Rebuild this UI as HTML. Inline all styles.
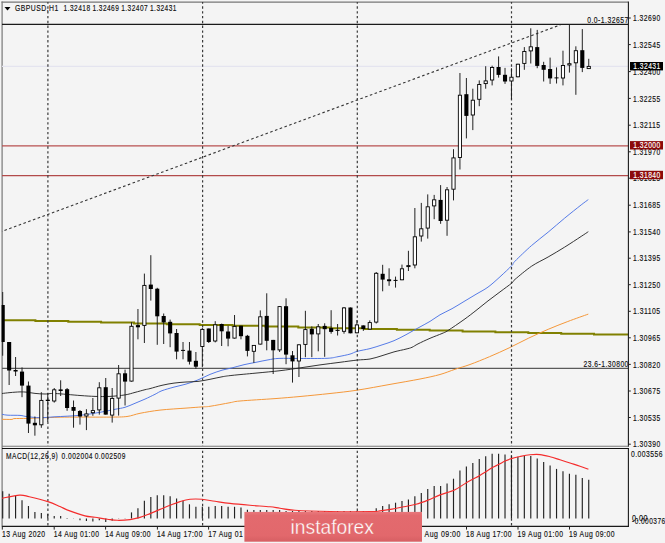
<!DOCTYPE html><html><head><meta charset="utf-8"><style>html,body{margin:0;padding:0;background:#f4f4f4;width:665px;height:543px;overflow:hidden}svg{display:block}text{font-family:"Liberation Sans",sans-serif;}</style></head><body>
<svg width="665" height="543" viewBox="0 0 665 543">
<rect width="665" height="543" fill="#f4f4f4"/>
<line x1="1.5" y1="2.2" x2="628" y2="2.2" stroke="#777" stroke-width="1.2"/>
<line x1="2.1" y1="1.5" x2="2.1" y2="526.5" stroke="#777" stroke-width="1.2"/>
<defs><clipPath id="cm"><rect x="1.6" y="2" width="627" height="444"/></clipPath></defs>
<line x1="2" y1="66.4" x2="628" y2="66.4" stroke="#e4e4ef" stroke-width="1.1"/>
<line x1="2" y1="145.9" x2="628" y2="145.9" stroke="#b85050" stroke-width="1.25"/>
<line x1="2" y1="175.5" x2="628" y2="175.5" stroke="#b24a4a" stroke-width="1.25"/>
<line x1="2" y1="24.3" x2="628" y2="24.3" stroke="#1a1a1a" stroke-width="1.3"/>
<line x1="2" y1="368.3" x2="628" y2="368.3" stroke="#5a5a5a" stroke-width="1.25"/>
<line x1="2" y1="231.4" x2="560.3" y2="24.9" stroke="#333" stroke-width="1.1" stroke-dasharray="2.6,2.46" stroke-dashoffset="2.46"/>
<polyline points="2.0,320.2 35.4,320.2 35.4,321.0 68.3,321.0 68.3,321.8 101.1,321.8 101.1,322.6 134.0,322.6 134.0,323.4 166.8,323.4 166.8,324.2 199.7,324.2 199.7,325.0 232.6,325.0 232.6,325.8 265.4,325.8 265.4,326.6 298.3,326.6 298.3,327.4 331.1,327.4 331.1,328.2 364.0,328.2 364.0,329.0 396.9,329.0 396.9,329.8 429.7,329.8 429.7,330.6 462.6,330.6 462.6,331.4 495.4,331.4 495.4,332.2 528.3,332.2 528.3,333.0 561.2,333.0 561.2,333.8 594.0,333.8 594.0,334.6 628.0,334.6" fill="none" stroke="#808000" stroke-width="2"/>
<path d="M2.00,419.30 C3.67,419.32 10.00,419.52 12.00,419.40 C14.00,419.28 11.50,418.77 14.00,418.60 C16.50,418.43 22.67,418.52 27.00,418.40 C31.33,418.28 34.50,418.10 40.00,417.90 C45.50,417.70 53.33,417.33 60.00,417.20 C66.67,417.07 71.67,417.12 80.00,417.10 C88.33,417.08 102.17,417.20 110.00,417.10 C117.83,417.00 122.00,417.13 127.00,416.50 C132.00,415.87 134.50,414.37 140.00,413.30 C145.50,412.23 152.33,410.97 160.00,410.10 C167.67,409.23 179.00,408.63 186.00,408.10 C193.00,407.57 198.00,407.20 202.00,406.90 C206.00,406.60 205.33,407.00 210.00,406.30 C214.67,405.60 225.00,403.58 230.00,402.70 C235.00,401.82 232.50,401.68 240.00,401.00 C247.50,400.32 265.00,399.35 275.00,398.60 C285.00,397.85 290.83,397.35 300.00,396.50 C309.17,395.65 320.50,394.55 330.00,393.50 C339.50,392.45 347.00,391.72 357.00,390.20 C367.00,388.68 379.50,386.27 390.00,384.40 C400.50,382.53 411.67,380.65 420.00,379.00 C428.33,377.35 434.17,376.12 440.00,374.50 C445.83,372.88 450.00,370.97 455.00,369.30 C460.00,367.63 464.25,366.60 470.00,364.50 C475.75,362.40 482.98,359.47 489.50,356.70 C496.02,353.93 502.57,351.00 509.10,347.90 C515.63,344.80 522.18,341.20 528.70,338.10 C535.22,335.00 541.68,332.07 548.20,329.30 C554.72,326.53 561.12,324.03 567.80,321.50 C574.48,318.97 584.88,315.33 588.30,314.10" fill="none" stroke="#f5983a" stroke-width="1"/>
<path d="M2.00,414.30 C3.00,414.45 5.00,415.02 8.00,415.20 C11.00,415.38 16.83,415.17 20.00,415.40 C23.17,415.63 23.67,416.22 27.00,416.60 C30.33,416.98 35.33,417.67 40.00,417.70 C44.67,417.73 48.33,417.20 55.00,416.80 C61.67,416.40 72.50,416.05 80.00,415.30 C87.50,414.55 94.17,413.30 100.00,412.30 C105.83,411.30 110.83,410.13 115.00,409.30 C119.17,408.47 121.67,408.30 125.00,407.30 C128.33,406.30 131.67,404.67 135.00,403.30 C138.33,401.93 141.67,400.60 145.00,399.10 C148.33,397.60 152.17,395.70 155.00,394.30 C157.83,392.90 158.83,391.90 162.00,390.70 C165.17,389.50 170.00,388.20 174.00,387.10 C178.00,386.00 182.00,385.30 186.00,384.10 C190.00,382.90 194.00,381.52 198.00,379.90 C202.00,378.28 206.00,376.02 210.00,374.40 C214.00,372.78 218.33,371.28 222.00,370.20 C225.67,369.12 228.33,368.82 232.00,367.90 C235.67,366.98 240.00,365.63 244.00,364.70 C248.00,363.77 252.00,363.10 256.00,362.30 C260.00,361.50 264.17,360.55 268.00,359.90 C271.83,359.25 273.67,358.63 279.00,358.40 C284.33,358.17 292.00,358.52 300.00,358.50 C308.00,358.48 320.67,358.60 327.00,358.30 C333.33,358.00 334.17,357.40 338.00,356.70 C341.83,356.00 346.83,354.98 350.00,354.10 C353.17,353.22 353.67,352.32 357.00,351.40 C360.33,350.48 365.83,349.68 370.00,348.60 C374.17,347.52 378.00,346.22 382.00,344.90 C386.00,343.58 390.00,342.40 394.00,340.70 C398.00,339.00 402.00,336.82 406.00,334.70 C410.00,332.58 414.00,330.22 418.00,328.00 C422.00,325.78 426.33,323.60 430.00,321.40 C433.67,319.20 436.33,316.92 440.00,314.80 C443.67,312.68 448.00,310.92 452.00,308.70 C456.00,306.48 460.00,303.90 464.00,301.50 C468.00,299.10 472.00,296.70 476.00,294.30 C480.00,291.90 484.00,290.02 488.00,287.10 C492.00,284.18 496.00,280.42 500.00,276.80 C504.00,273.18 509.50,268.00 512.00,265.40 C514.50,262.80 511.73,264.52 515.00,261.20 C518.27,257.88 526.08,250.33 531.60,245.50 C537.12,240.67 542.58,236.77 548.10,232.20 C553.62,227.63 559.18,222.65 564.70,218.10 C570.22,213.55 577.27,207.98 581.20,204.90 C585.13,201.82 587.12,200.48 588.30,199.60" fill="none" stroke="#4d74e6" stroke-width="0.95"/>
<path d="M2.00,393.50 C3.33,393.35 7.00,392.87 10.00,392.60 C13.00,392.33 17.17,391.97 20.00,391.90 C22.83,391.83 24.50,391.95 27.00,392.20 C29.50,392.45 32.00,393.10 35.00,393.40 C38.00,393.70 41.67,393.98 45.00,394.00 C48.33,394.02 49.17,393.25 55.00,393.50 C60.83,393.75 73.33,395.02 80.00,395.50 C86.67,395.98 90.00,396.25 95.00,396.40 C100.00,396.55 105.00,396.65 110.00,396.40 C115.00,396.15 120.83,395.57 125.00,394.90 C129.17,394.23 131.67,393.27 135.00,392.40 C138.33,391.53 142.50,390.33 145.00,389.70 C147.50,389.07 147.17,389.33 150.00,388.60 C152.83,387.87 158.00,386.22 162.00,385.30 C166.00,384.38 170.00,383.65 174.00,383.10 C178.00,382.55 182.00,382.28 186.00,382.00 C190.00,381.72 194.00,381.85 198.00,381.40 C202.00,380.95 206.00,380.07 210.00,379.30 C214.00,378.53 218.33,377.45 222.00,376.80 C225.67,376.15 226.33,376.02 232.00,375.40 C237.67,374.78 248.00,373.88 256.00,373.10 C264.00,372.32 272.67,371.57 280.00,370.70 C287.33,369.83 293.33,368.87 300.00,367.90 C306.67,366.93 313.33,365.83 320.00,364.90 C326.67,363.97 333.83,363.10 340.00,362.30 C346.17,361.50 352.00,360.65 357.00,360.10 C362.00,359.55 365.83,359.73 370.00,359.00 C374.17,358.27 378.00,356.88 382.00,355.70 C386.00,354.52 390.00,353.00 394.00,351.90 C398.00,350.80 403.00,349.87 406.00,349.10 C409.00,348.33 410.00,348.17 412.00,347.30 C414.00,346.43 415.00,345.40 418.00,343.90 C421.00,342.40 426.00,340.03 430.00,338.30 C434.00,336.57 439.00,334.80 442.00,333.50 C445.00,332.20 444.33,332.82 448.00,330.50 C451.67,328.18 459.33,322.93 464.00,319.60 C468.67,316.27 472.00,313.62 476.00,310.50 C480.00,307.38 484.00,304.00 488.00,300.90 C492.00,297.80 496.00,294.90 500.00,291.90 C504.00,288.90 509.50,284.98 512.00,282.90 C514.50,280.82 511.73,282.18 515.00,279.40 C518.27,276.62 526.08,269.93 531.60,266.20 C537.12,262.47 542.58,260.18 548.10,257.00 C553.62,253.82 559.18,250.53 564.70,247.10 C570.22,243.67 577.27,238.97 581.20,236.40 C585.13,233.83 587.12,232.48 588.30,231.70" fill="none" stroke="#2a2a2a" stroke-width="0.95"/>
<line x1="47.9" y1="2" x2="47.9" y2="446" stroke="#3a3a3a" stroke-width="1.2" stroke-dasharray="2.4,2.43" stroke-dashoffset="0.53"/>
<line x1="47.9" y1="449" x2="47.9" y2="526" stroke="#3a3a3a" stroke-width="1.2" stroke-dasharray="2.4,2.43" stroke-dashoffset="3.17"/>
<line x1="202.6" y1="2" x2="202.6" y2="446" stroke="#3a3a3a" stroke-width="1.2" stroke-dasharray="2.4,2.43" stroke-dashoffset="0.53"/>
<line x1="202.6" y1="449" x2="202.6" y2="526" stroke="#3a3a3a" stroke-width="1.2" stroke-dasharray="2.4,2.43" stroke-dashoffset="3.17"/>
<line x1="357.3" y1="2" x2="357.3" y2="446" stroke="#3a3a3a" stroke-width="1.2" stroke-dasharray="2.4,2.43" stroke-dashoffset="0.53"/>
<line x1="357.3" y1="449" x2="357.3" y2="526" stroke="#3a3a3a" stroke-width="1.2" stroke-dasharray="2.4,2.43" stroke-dashoffset="3.17"/>
<line x1="511.5" y1="2" x2="511.5" y2="446" stroke="#3a3a3a" stroke-width="1.2" stroke-dasharray="2.4,2.43" stroke-dashoffset="0.53"/>
<line x1="511.5" y1="449" x2="511.5" y2="526" stroke="#3a3a3a" stroke-width="1.2" stroke-dasharray="2.4,2.43" stroke-dashoffset="3.17"/>
<g clip-path="url(#cm)">
<line x1="2.70" y1="292.0" x2="2.70" y2="355.7" stroke="#222" stroke-width="1"/>
<rect x="0.65" y="305.0" width="4.1" height="37.0" fill="#000"/>
<line x1="9.14" y1="342.0" x2="9.14" y2="385.0" stroke="#222" stroke-width="1"/>
<rect x="7.09" y="342.0" width="4.1" height="28.5" fill="#000"/>
<line x1="15.58" y1="357.0" x2="15.58" y2="376.0" stroke="#222" stroke-width="1"/>
<rect x="13.53" y="370.0" width="4.1" height="1.5" fill="#000"/>
<line x1="22.02" y1="367.4" x2="22.02" y2="397.2" stroke="#222" stroke-width="1"/>
<rect x="19.97" y="371.6" width="4.1" height="14.0" fill="#000"/>
<line x1="28.46" y1="381.5" x2="28.46" y2="433.0" stroke="#222" stroke-width="1"/>
<rect x="26.41" y="385.6" width="4.1" height="38.0" fill="#000"/>
<line x1="34.90" y1="416.5" x2="34.90" y2="435.7" stroke="#222" stroke-width="1"/>
<rect x="32.85" y="422.8" width="4.1" height="2.5" fill="#000"/>
<line x1="41.34" y1="392.2" x2="41.34" y2="427.8" stroke="#222" stroke-width="1"/>
<rect x="39.74" y="400.4" width="3.2" height="24.4" fill="#fff" stroke="#000" stroke-width="0.9"/>
<line x1="47.78" y1="393.0" x2="47.78" y2="422.0" stroke="#222" stroke-width="1"/>
<rect x="45.73" y="399.7" width="4.1" height="1.3" fill="#000"/>
<line x1="54.22" y1="388.0" x2="54.22" y2="402.6" stroke="#222" stroke-width="1"/>
<rect x="52.62" y="389.8" width="3.2" height="11.2" fill="#fff" stroke="#000" stroke-width="0.9"/>
<line x1="60.66" y1="380.3" x2="60.66" y2="396.0" stroke="#222" stroke-width="1"/>
<rect x="58.61" y="389.4" width="4.1" height="1.6" fill="#000"/>
<line x1="67.10" y1="388.0" x2="67.10" y2="410.8" stroke="#222" stroke-width="1"/>
<rect x="65.05" y="389.2" width="4.1" height="18.8" fill="#000"/>
<line x1="73.54" y1="400.5" x2="73.54" y2="427.7" stroke="#222" stroke-width="1"/>
<rect x="71.49" y="407.0" width="4.1" height="3.8" fill="#000"/>
<line x1="79.98" y1="410.0" x2="79.98" y2="424.6" stroke="#222" stroke-width="1"/>
<rect x="77.93" y="411.0" width="4.1" height="5.5" fill="#000"/>
<line x1="86.42" y1="409.2" x2="86.42" y2="430.1" stroke="#222" stroke-width="1"/>
<rect x="84.82" y="413.9" width="3.2" height="2.1" fill="#fff" stroke="#000" stroke-width="0.9"/>
<line x1="92.86" y1="398.0" x2="92.86" y2="415.8" stroke="#222" stroke-width="1"/>
<rect x="91.26" y="410.6" width="3.2" height="2.1" fill="#fff" stroke="#000" stroke-width="0.9"/>
<line x1="99.30" y1="382.2" x2="99.30" y2="414.6" stroke="#222" stroke-width="1"/>
<rect x="97.70" y="387.8" width="3.2" height="22.1" fill="#fff" stroke="#000" stroke-width="0.9"/>
<line x1="105.74" y1="378.0" x2="105.74" y2="414.6" stroke="#222" stroke-width="1"/>
<rect x="103.69" y="387.2" width="4.1" height="27.4" fill="#000"/>
<line x1="112.18" y1="388.0" x2="112.18" y2="422.6" stroke="#222" stroke-width="1"/>
<rect x="110.58" y="398.4" width="3.2" height="16.7" fill="#fff" stroke="#000" stroke-width="0.9"/>
<line x1="118.62" y1="365.0" x2="118.62" y2="415.6" stroke="#222" stroke-width="1"/>
<rect x="117.02" y="373.8" width="3.2" height="24.3" fill="#fff" stroke="#000" stroke-width="0.9"/>
<line x1="125.06" y1="369.6" x2="125.06" y2="405.5" stroke="#222" stroke-width="1"/>
<rect x="123.01" y="373.3" width="4.1" height="8.3" fill="#000"/>
<line x1="131.50" y1="322.2" x2="131.50" y2="381.6" stroke="#222" stroke-width="1"/>
<rect x="129.90" y="326.3" width="3.2" height="54.8" fill="#fff" stroke="#000" stroke-width="0.9"/>
<line x1="137.94" y1="309.0" x2="137.94" y2="339.3" stroke="#222" stroke-width="1"/>
<rect x="135.89" y="325.1" width="4.1" height="2.2" fill="#000"/>
<line x1="144.38" y1="273.6" x2="144.38" y2="343.0" stroke="#222" stroke-width="1"/>
<rect x="142.78" y="285.4" width="3.2" height="40.0" fill="#fff" stroke="#000" stroke-width="0.9"/>
<line x1="150.82" y1="255.2" x2="150.82" y2="300.6" stroke="#222" stroke-width="1"/>
<rect x="148.77" y="284.6" width="4.1" height="4.4" fill="#000"/>
<line x1="157.26" y1="287.8" x2="157.26" y2="344.8" stroke="#222" stroke-width="1"/>
<rect x="155.21" y="288.7" width="4.1" height="27.6" fill="#000"/>
<line x1="163.70" y1="313.5" x2="163.70" y2="344.0" stroke="#222" stroke-width="1"/>
<rect x="161.65" y="316.0" width="4.1" height="6.4" fill="#000"/>
<line x1="170.14" y1="319.6" x2="170.14" y2="347.2" stroke="#222" stroke-width="1"/>
<rect x="168.09" y="321.8" width="4.1" height="11.6" fill="#000"/>
<line x1="176.58" y1="329.0" x2="176.58" y2="359.3" stroke="#222" stroke-width="1"/>
<rect x="174.53" y="333.0" width="4.1" height="18.6" fill="#000"/>
<line x1="183.02" y1="342.0" x2="183.02" y2="359.3" stroke="#222" stroke-width="1"/>
<line x1="180.97" y1="350.4" x2="185.07" y2="350.4" stroke="#000" stroke-width="1"/>
<line x1="189.46" y1="342.0" x2="189.46" y2="364.5" stroke="#222" stroke-width="1"/>
<rect x="187.41" y="350.6" width="4.1" height="11.1" fill="#000"/>
<line x1="195.90" y1="352.0" x2="195.90" y2="369.0" stroke="#222" stroke-width="1"/>
<rect x="193.85" y="360.8" width="4.1" height="5.9" fill="#000"/>
<line x1="202.34" y1="328.0" x2="202.34" y2="367.2" stroke="#222" stroke-width="1"/>
<rect x="200.74" y="329.4" width="3.2" height="17.1" fill="#fff" stroke="#000" stroke-width="0.9"/>
<line x1="208.78" y1="328.5" x2="208.78" y2="343.0" stroke="#222" stroke-width="1"/>
<rect x="206.73" y="328.5" width="4.1" height="13.5" fill="#000"/>
<line x1="215.22" y1="321.2" x2="215.22" y2="342.4" stroke="#222" stroke-width="1"/>
<rect x="213.62" y="324.8" width="3.2" height="16.2" fill="#fff" stroke="#000" stroke-width="0.9"/>
<line x1="221.66" y1="323.6" x2="221.66" y2="346.0" stroke="#222" stroke-width="1"/>
<rect x="219.61" y="324.0" width="4.1" height="7.3" fill="#000"/>
<line x1="228.10" y1="325.7" x2="228.10" y2="346.3" stroke="#222" stroke-width="1"/>
<rect x="226.05" y="331.5" width="4.1" height="7.1" fill="#000"/>
<line x1="234.54" y1="315.0" x2="234.54" y2="338.6" stroke="#222" stroke-width="1"/>
<rect x="232.94" y="326.4" width="3.2" height="11.7" fill="#fff" stroke="#000" stroke-width="0.9"/>
<line x1="240.98" y1="325.7" x2="240.98" y2="339.3" stroke="#222" stroke-width="1"/>
<rect x="238.93" y="325.7" width="4.1" height="10.5" fill="#000"/>
<line x1="247.42" y1="334.9" x2="247.42" y2="356.4" stroke="#222" stroke-width="1"/>
<rect x="245.37" y="335.8" width="4.1" height="15.1" fill="#000"/>
<line x1="253.86" y1="345.0" x2="253.86" y2="362.9" stroke="#222" stroke-width="1"/>
<rect x="252.26" y="345.4" width="3.2" height="5.9" fill="#fff" stroke="#000" stroke-width="0.9"/>
<line x1="260.30" y1="310.4" x2="260.30" y2="344.5" stroke="#222" stroke-width="1"/>
<rect x="258.70" y="316.8" width="3.2" height="27.3" fill="#fff" stroke="#000" stroke-width="0.9"/>
<line x1="266.74" y1="293.3" x2="266.74" y2="350.3" stroke="#222" stroke-width="1"/>
<rect x="264.69" y="315.9" width="4.1" height="24.9" fill="#000"/>
<line x1="273.18" y1="339.9" x2="273.18" y2="374.0" stroke="#222" stroke-width="1"/>
<rect x="271.13" y="339.9" width="4.1" height="10.4" fill="#000"/>
<line x1="279.62" y1="306.0" x2="279.62" y2="352.0" stroke="#222" stroke-width="1"/>
<rect x="278.02" y="306.6" width="3.2" height="43.3" fill="#fff" stroke="#000" stroke-width="0.9"/>
<line x1="286.06" y1="298.3" x2="286.06" y2="364.2" stroke="#222" stroke-width="1"/>
<rect x="284.01" y="306.2" width="4.1" height="48.4" fill="#000"/>
<line x1="292.50" y1="351.0" x2="292.50" y2="382.6" stroke="#222" stroke-width="1"/>
<rect x="290.45" y="355.3" width="4.1" height="6.1" fill="#000"/>
<line x1="298.94" y1="344.3" x2="298.94" y2="377.0" stroke="#222" stroke-width="1"/>
<rect x="297.34" y="344.8" width="3.2" height="16.2" fill="#fff" stroke="#000" stroke-width="0.9"/>
<line x1="305.38" y1="310.8" x2="305.38" y2="357.2" stroke="#222" stroke-width="1"/>
<rect x="303.78" y="329.6" width="3.2" height="14.8" fill="#fff" stroke="#000" stroke-width="0.9"/>
<line x1="311.82" y1="326.4" x2="311.82" y2="357.2" stroke="#222" stroke-width="1"/>
<rect x="309.77" y="328.8" width="4.1" height="5.6" fill="#000"/>
<line x1="318.26" y1="324.0" x2="318.26" y2="351.3" stroke="#222" stroke-width="1"/>
<rect x="316.66" y="326.8" width="3.2" height="7.1" fill="#fff" stroke="#000" stroke-width="0.9"/>
<line x1="324.70" y1="323.3" x2="324.70" y2="356.8" stroke="#222" stroke-width="1"/>
<rect x="322.65" y="325.9" width="4.1" height="3.3" fill="#000"/>
<line x1="331.14" y1="310.2" x2="331.14" y2="333.7" stroke="#222" stroke-width="1"/>
<rect x="329.09" y="328.0" width="4.1" height="3.9" fill="#000"/>
<line x1="337.58" y1="324.0" x2="337.58" y2="335.5" stroke="#222" stroke-width="1"/>
<line x1="335.53" y1="330.4" x2="339.63" y2="330.4" stroke="#000" stroke-width="1"/>
<line x1="344.02" y1="307.0" x2="344.02" y2="333.7" stroke="#222" stroke-width="1"/>
<rect x="342.42" y="307.9" width="3.2" height="23.4" fill="#fff" stroke="#000" stroke-width="0.9"/>
<line x1="350.46" y1="307.5" x2="350.46" y2="333.3" stroke="#222" stroke-width="1"/>
<rect x="348.41" y="307.5" width="4.1" height="25.8" fill="#000"/>
<line x1="356.90" y1="320.0" x2="356.90" y2="333.3" stroke="#222" stroke-width="1"/>
<rect x="355.30" y="324.9" width="3.2" height="7.9" fill="#fff" stroke="#000" stroke-width="0.9"/>
<line x1="363.34" y1="325.4" x2="363.34" y2="330.9" stroke="#222" stroke-width="1"/>
<rect x="361.29" y="325.4" width="4.1" height="3.6" fill="#000"/>
<line x1="369.78" y1="320.4" x2="369.78" y2="329.6" stroke="#222" stroke-width="1"/>
<rect x="368.18" y="322.6" width="3.2" height="6.5" fill="#fff" stroke="#000" stroke-width="0.9"/>
<line x1="376.22" y1="272.0" x2="376.22" y2="323.5" stroke="#222" stroke-width="1"/>
<rect x="374.62" y="273.3" width="3.2" height="48.8" fill="#fff" stroke="#000" stroke-width="0.9"/>
<line x1="382.66" y1="264.8" x2="382.66" y2="291.3" stroke="#222" stroke-width="1"/>
<rect x="380.61" y="273.8" width="4.1" height="5.8" fill="#000"/>
<line x1="389.10" y1="268.3" x2="389.10" y2="285.8" stroke="#222" stroke-width="1"/>
<rect x="387.05" y="279.3" width="4.1" height="1.9" fill="#000"/>
<line x1="395.54" y1="276.6" x2="395.54" y2="287.6" stroke="#222" stroke-width="1"/>
<line x1="393.49" y1="280.4" x2="397.59" y2="280.4" stroke="#000" stroke-width="1"/>
<line x1="401.98" y1="264.6" x2="401.98" y2="280.2" stroke="#222" stroke-width="1"/>
<rect x="400.38" y="268.8" width="3.2" height="11.0" fill="#fff" stroke="#000" stroke-width="0.9"/>
<line x1="408.42" y1="250.8" x2="408.42" y2="271.0" stroke="#222" stroke-width="1"/>
<rect x="406.82" y="265.6" width="3.2" height="1.0" fill="#fff" stroke="#000" stroke-width="0.9"/>
<line x1="414.86" y1="208.0" x2="414.86" y2="268.3" stroke="#222" stroke-width="1"/>
<rect x="413.26" y="236.8" width="3.2" height="28.2" fill="#fff" stroke="#000" stroke-width="0.9"/>
<line x1="421.30" y1="202.9" x2="421.30" y2="241.6" stroke="#222" stroke-width="1"/>
<rect x="419.70" y="228.8" width="3.2" height="7.2" fill="#fff" stroke="#000" stroke-width="0.9"/>
<line x1="427.74" y1="194.4" x2="427.74" y2="238.6" stroke="#222" stroke-width="1"/>
<rect x="426.14" y="206.8" width="3.2" height="21.3" fill="#fff" stroke="#000" stroke-width="0.9"/>
<line x1="434.18" y1="194.9" x2="434.18" y2="219.2" stroke="#222" stroke-width="1"/>
<rect x="432.58" y="199.8" width="3.2" height="6.1" fill="#fff" stroke="#000" stroke-width="0.9"/>
<line x1="440.62" y1="185.1" x2="440.62" y2="223.8" stroke="#222" stroke-width="1"/>
<rect x="438.57" y="199.9" width="4.1" height="21.1" fill="#000"/>
<line x1="447.06" y1="187.0" x2="447.06" y2="235.8" stroke="#222" stroke-width="1"/>
<rect x="445.46" y="189.8" width="3.2" height="30.4" fill="#fff" stroke="#000" stroke-width="0.9"/>
<line x1="453.50" y1="149.2" x2="453.50" y2="200.4" stroke="#222" stroke-width="1"/>
<rect x="451.90" y="157.9" width="3.2" height="31.3" fill="#fff" stroke="#000" stroke-width="0.9"/>
<line x1="459.94" y1="73.0" x2="459.94" y2="169.5" stroke="#222" stroke-width="1"/>
<rect x="458.34" y="95.2" width="3.2" height="62.3" fill="#fff" stroke="#000" stroke-width="0.9"/>
<line x1="466.38" y1="78.0" x2="466.38" y2="138.4" stroke="#222" stroke-width="1"/>
<rect x="464.33" y="94.2" width="4.1" height="21.7" fill="#000"/>
<line x1="472.82" y1="88.7" x2="472.82" y2="130.1" stroke="#222" stroke-width="1"/>
<rect x="471.22" y="100.2" width="3.2" height="14.8" fill="#fff" stroke="#000" stroke-width="0.9"/>
<line x1="479.26" y1="80.4" x2="479.26" y2="106.2" stroke="#222" stroke-width="1"/>
<rect x="477.66" y="84.5" width="3.2" height="14.8" fill="#fff" stroke="#000" stroke-width="0.9"/>
<line x1="485.70" y1="66.2" x2="485.70" y2="88.7" stroke="#222" stroke-width="1"/>
<rect x="484.10" y="80.9" width="3.2" height="2.7" fill="#fff" stroke="#000" stroke-width="0.9"/>
<line x1="492.14" y1="65.7" x2="492.14" y2="85.4" stroke="#222" stroke-width="1"/>
<rect x="490.54" y="67.5" width="3.2" height="12.5" fill="#fff" stroke="#000" stroke-width="0.9"/>
<line x1="498.58" y1="56.4" x2="498.58" y2="77.6" stroke="#222" stroke-width="1"/>
<rect x="496.53" y="67.0" width="4.1" height="7.9" fill="#000"/>
<line x1="505.02" y1="67.9" x2="505.02" y2="83.9" stroke="#222" stroke-width="1"/>
<rect x="502.97" y="74.8" width="4.1" height="6.7" fill="#000"/>
<line x1="511.46" y1="68.2" x2="511.46" y2="99.5" stroke="#222" stroke-width="1"/>
<rect x="509.86" y="77.2" width="3.2" height="3.8" fill="#fff" stroke="#000" stroke-width="0.9"/>
<line x1="517.90" y1="63.8" x2="517.90" y2="77.3" stroke="#222" stroke-width="1"/>
<rect x="516.30" y="64.2" width="3.2" height="12.6" fill="#fff" stroke="#000" stroke-width="0.9"/>
<line x1="524.34" y1="47.1" x2="524.34" y2="69.8" stroke="#222" stroke-width="1"/>
<rect x="522.74" y="51.5" width="3.2" height="11.9" fill="#fff" stroke="#000" stroke-width="0.9"/>
<line x1="530.78" y1="28.3" x2="530.78" y2="63.5" stroke="#222" stroke-width="1"/>
<rect x="529.18" y="46.8" width="3.2" height="4.1" fill="#fff" stroke="#000" stroke-width="0.9"/>
<line x1="537.22" y1="29.9" x2="537.22" y2="68.2" stroke="#222" stroke-width="1"/>
<rect x="535.17" y="47.1" width="4.1" height="18.8" fill="#000"/>
<line x1="543.66" y1="61.8" x2="543.66" y2="81.5" stroke="#222" stroke-width="1"/>
<rect x="541.61" y="65.0" width="4.1" height="4.8" fill="#000"/>
<line x1="550.10" y1="57.6" x2="550.10" y2="83.9" stroke="#222" stroke-width="1"/>
<rect x="548.05" y="69.0" width="4.1" height="9.4" fill="#000"/>
<line x1="556.54" y1="67.4" x2="556.54" y2="83.5" stroke="#222" stroke-width="1"/>
<line x1="554.49" y1="77.9" x2="558.59" y2="77.9" stroke="#000" stroke-width="1"/>
<line x1="562.98" y1="50.7" x2="562.98" y2="85.4" stroke="#222" stroke-width="1"/>
<rect x="561.38" y="65.5" width="3.2" height="12.5" fill="#fff" stroke="#000" stroke-width="0.9"/>
<line x1="569.42" y1="24.7" x2="569.42" y2="72.6" stroke="#222" stroke-width="1"/>
<rect x="567.82" y="63.7" width="3.2" height="1.3" fill="#fff" stroke="#000" stroke-width="0.9"/>
<line x1="575.86" y1="46.3" x2="575.86" y2="94.8" stroke="#222" stroke-width="1"/>
<rect x="574.26" y="50.7" width="3.2" height="12.1" fill="#fff" stroke="#000" stroke-width="0.9"/>
<line x1="582.30" y1="29.1" x2="582.30" y2="72.1" stroke="#222" stroke-width="1"/>
<rect x="580.25" y="50.2" width="4.1" height="17.7" fill="#000"/>
<line x1="588.74" y1="58.8" x2="588.74" y2="69.0" stroke="#222" stroke-width="1"/>
<rect x="587.14" y="66.4" width="3.2" height="2.2" fill="#fff" stroke="#000" stroke-width="0.9"/>
</g>
<line x1="2.70" y1="491.2" x2="2.70" y2="518.5" stroke="#222" stroke-width="1.15"/>
<line x1="9.14" y1="493.8" x2="9.14" y2="518.5" stroke="#222" stroke-width="1.15"/>
<line x1="15.58" y1="495.7" x2="15.58" y2="518.5" stroke="#222" stroke-width="1.15"/>
<line x1="22.02" y1="500.2" x2="22.02" y2="518.5" stroke="#222" stroke-width="1.15"/>
<line x1="28.46" y1="506.0" x2="28.46" y2="518.5" stroke="#222" stroke-width="1.15"/>
<line x1="34.90" y1="512.0" x2="34.90" y2="518.5" stroke="#222" stroke-width="1.15"/>
<line x1="41.34" y1="513.0" x2="41.34" y2="518.5" stroke="#222" stroke-width="1.15"/>
<line x1="47.78" y1="514.0" x2="47.78" y2="518.5" stroke="#222" stroke-width="1.15"/>
<line x1="54.22" y1="515.9" x2="54.22" y2="518.5" stroke="#222" stroke-width="1.15"/>
<line x1="60.66" y1="515.9" x2="60.66" y2="518.5" stroke="#222" stroke-width="1.15"/>
<line x1="67.10" y1="518.0" x2="67.10" y2="518.5" stroke="#222" stroke-width="1.15"/>
<line x1="73.54" y1="518.3" x2="73.54" y2="518.5" stroke="#222" stroke-width="1.15"/>
<line x1="79.98" y1="518.5" x2="79.98" y2="520.3" stroke="#222" stroke-width="1.15"/>
<line x1="86.42" y1="518.5" x2="86.42" y2="520.9" stroke="#222" stroke-width="1.15"/>
<line x1="92.86" y1="518.5" x2="92.86" y2="521.5" stroke="#222" stroke-width="1.15"/>
<line x1="99.30" y1="518.5" x2="99.30" y2="520.3" stroke="#222" stroke-width="1.15"/>
<line x1="105.74" y1="518.5" x2="105.74" y2="521.9" stroke="#222" stroke-width="1.15"/>
<line x1="112.18" y1="518.5" x2="112.18" y2="520.8" stroke="#222" stroke-width="1.15"/>
<line x1="118.62" y1="518.5" x2="118.62" y2="518.8" stroke="#222" stroke-width="1.15"/>
<line x1="125.06" y1="518.5" x2="125.06" y2="518.8" stroke="#222" stroke-width="1.15"/>
<line x1="131.50" y1="512.4" x2="131.50" y2="518.5" stroke="#222" stroke-width="1.15"/>
<line x1="137.94" y1="508.3" x2="137.94" y2="518.5" stroke="#222" stroke-width="1.15"/>
<line x1="144.38" y1="500.8" x2="144.38" y2="518.5" stroke="#222" stroke-width="1.15"/>
<line x1="150.82" y1="497.1" x2="150.82" y2="518.5" stroke="#222" stroke-width="1.15"/>
<line x1="157.26" y1="495.3" x2="157.26" y2="518.5" stroke="#222" stroke-width="1.15"/>
<line x1="163.70" y1="495.3" x2="163.70" y2="518.5" stroke="#222" stroke-width="1.15"/>
<line x1="170.14" y1="496.3" x2="170.14" y2="518.5" stroke="#222" stroke-width="1.15"/>
<line x1="176.58" y1="498.6" x2="176.58" y2="518.5" stroke="#222" stroke-width="1.15"/>
<line x1="183.02" y1="500.8" x2="183.02" y2="518.5" stroke="#222" stroke-width="1.15"/>
<line x1="189.46" y1="504.3" x2="189.46" y2="518.5" stroke="#222" stroke-width="1.15"/>
<line x1="195.90" y1="506.8" x2="195.90" y2="518.5" stroke="#222" stroke-width="1.15"/>
<line x1="202.34" y1="506.8" x2="202.34" y2="518.5" stroke="#222" stroke-width="1.15"/>
<line x1="208.78" y1="506.8" x2="208.78" y2="518.5" stroke="#222" stroke-width="1.15"/>
<line x1="215.22" y1="506.1" x2="215.22" y2="518.5" stroke="#222" stroke-width="1.15"/>
<line x1="221.66" y1="506.1" x2="221.66" y2="518.5" stroke="#222" stroke-width="1.15"/>
<line x1="228.10" y1="506.8" x2="228.10" y2="518.5" stroke="#222" stroke-width="1.15"/>
<line x1="234.54" y1="506.8" x2="234.54" y2="518.5" stroke="#222" stroke-width="1.15"/>
<line x1="240.98" y1="507.6" x2="240.98" y2="518.5" stroke="#222" stroke-width="1.15"/>
<line x1="247.42" y1="509.8" x2="247.42" y2="518.5" stroke="#222" stroke-width="1.15"/>
<line x1="253.86" y1="510.0" x2="253.86" y2="518.5" stroke="#222" stroke-width="1.15"/>
<line x1="260.30" y1="510.0" x2="260.30" y2="518.5" stroke="#222" stroke-width="1.15"/>
<line x1="266.74" y1="510.0" x2="266.74" y2="518.5" stroke="#222" stroke-width="1.15"/>
<line x1="273.18" y1="510.0" x2="273.18" y2="518.5" stroke="#222" stroke-width="1.15"/>
<line x1="279.62" y1="510.0" x2="279.62" y2="518.5" stroke="#222" stroke-width="1.15"/>
<line x1="286.06" y1="511.0" x2="286.06" y2="518.5" stroke="#222" stroke-width="1.15"/>
<line x1="292.50" y1="511.0" x2="292.50" y2="518.5" stroke="#222" stroke-width="1.15"/>
<line x1="298.94" y1="511.0" x2="298.94" y2="518.5" stroke="#222" stroke-width="1.15"/>
<line x1="305.38" y1="511.0" x2="305.38" y2="518.5" stroke="#222" stroke-width="1.15"/>
<line x1="311.82" y1="511.0" x2="311.82" y2="518.5" stroke="#222" stroke-width="1.15"/>
<line x1="318.26" y1="511.0" x2="318.26" y2="518.5" stroke="#222" stroke-width="1.15"/>
<line x1="324.70" y1="511.0" x2="324.70" y2="518.5" stroke="#222" stroke-width="1.15"/>
<line x1="331.14" y1="511.0" x2="331.14" y2="518.5" stroke="#222" stroke-width="1.15"/>
<line x1="337.58" y1="511.0" x2="337.58" y2="518.5" stroke="#222" stroke-width="1.15"/>
<line x1="344.02" y1="511.0" x2="344.02" y2="518.5" stroke="#222" stroke-width="1.15"/>
<line x1="350.46" y1="511.0" x2="350.46" y2="518.5" stroke="#222" stroke-width="1.15"/>
<line x1="356.90" y1="511.0" x2="356.90" y2="518.5" stroke="#222" stroke-width="1.15"/>
<line x1="363.34" y1="511.0" x2="363.34" y2="518.5" stroke="#222" stroke-width="1.15"/>
<line x1="369.78" y1="511.0" x2="369.78" y2="518.5" stroke="#222" stroke-width="1.15"/>
<line x1="376.22" y1="508.3" x2="376.22" y2="518.5" stroke="#222" stroke-width="1.15"/>
<line x1="382.66" y1="506.1" x2="382.66" y2="518.5" stroke="#222" stroke-width="1.15"/>
<line x1="389.10" y1="504.3" x2="389.10" y2="518.5" stroke="#222" stroke-width="1.15"/>
<line x1="395.54" y1="502.7" x2="395.54" y2="518.5" stroke="#222" stroke-width="1.15"/>
<line x1="401.98" y1="501.0" x2="401.98" y2="518.5" stroke="#222" stroke-width="1.15"/>
<line x1="408.42" y1="499.5" x2="408.42" y2="518.5" stroke="#222" stroke-width="1.15"/>
<line x1="414.86" y1="496.2" x2="414.86" y2="518.5" stroke="#222" stroke-width="1.15"/>
<line x1="421.30" y1="493.1" x2="421.30" y2="518.5" stroke="#222" stroke-width="1.15"/>
<line x1="427.74" y1="489.0" x2="427.74" y2="518.5" stroke="#222" stroke-width="1.15"/>
<line x1="434.18" y1="485.9" x2="434.18" y2="518.5" stroke="#222" stroke-width="1.15"/>
<line x1="440.62" y1="485.9" x2="440.62" y2="518.5" stroke="#222" stroke-width="1.15"/>
<line x1="447.06" y1="483.5" x2="447.06" y2="518.5" stroke="#222" stroke-width="1.15"/>
<line x1="453.50" y1="478.7" x2="453.50" y2="518.5" stroke="#222" stroke-width="1.15"/>
<line x1="459.94" y1="470.6" x2="459.94" y2="518.5" stroke="#222" stroke-width="1.15"/>
<line x1="466.38" y1="466.5" x2="466.38" y2="518.5" stroke="#222" stroke-width="1.15"/>
<line x1="472.82" y1="463.0" x2="472.82" y2="518.5" stroke="#222" stroke-width="1.15"/>
<line x1="479.26" y1="459.1" x2="479.26" y2="518.5" stroke="#222" stroke-width="1.15"/>
<line x1="485.70" y1="456.2" x2="485.70" y2="518.5" stroke="#222" stroke-width="1.15"/>
<line x1="492.14" y1="453.7" x2="492.14" y2="518.5" stroke="#222" stroke-width="1.15"/>
<line x1="498.58" y1="453.7" x2="498.58" y2="518.5" stroke="#222" stroke-width="1.15"/>
<line x1="505.02" y1="454.4" x2="505.02" y2="518.5" stroke="#222" stroke-width="1.15"/>
<line x1="511.46" y1="455.3" x2="511.46" y2="518.5" stroke="#222" stroke-width="1.15"/>
<line x1="517.90" y1="456.8" x2="517.90" y2="518.5" stroke="#222" stroke-width="1.15"/>
<line x1="524.34" y1="455.6" x2="524.34" y2="518.5" stroke="#222" stroke-width="1.15"/>
<line x1="530.78" y1="456.1" x2="530.78" y2="518.5" stroke="#222" stroke-width="1.15"/>
<line x1="537.22" y1="458.6" x2="537.22" y2="518.5" stroke="#222" stroke-width="1.15"/>
<line x1="543.66" y1="462.0" x2="543.66" y2="518.5" stroke="#222" stroke-width="1.15"/>
<line x1="550.10" y1="465.6" x2="550.10" y2="518.5" stroke="#222" stroke-width="1.15"/>
<line x1="556.54" y1="468.9" x2="556.54" y2="518.5" stroke="#222" stroke-width="1.15"/>
<line x1="562.98" y1="471.2" x2="562.98" y2="518.5" stroke="#222" stroke-width="1.15"/>
<line x1="569.42" y1="473.7" x2="569.42" y2="518.5" stroke="#222" stroke-width="1.15"/>
<line x1="575.86" y1="474.7" x2="575.86" y2="518.5" stroke="#222" stroke-width="1.15"/>
<line x1="582.30" y1="477.9" x2="582.30" y2="518.5" stroke="#222" stroke-width="1.15"/>
<line x1="588.74" y1="479.8" x2="588.74" y2="518.5" stroke="#222" stroke-width="1.15"/>
<path d="M2.00,498.30 C4.92,497.77 14.95,495.37 19.50,495.10 C24.05,494.83 24.57,495.62 29.30,496.70 C34.03,497.78 42.78,499.97 47.90,501.60 C53.02,503.23 56.58,505.03 60.00,506.50 C63.42,507.97 64.23,508.83 68.40,510.40 C72.57,511.97 80.57,514.75 85.00,515.90 C89.43,517.05 91.25,516.75 95.00,517.30 C98.75,517.85 103.78,518.70 107.50,519.20 C111.22,519.70 113.55,520.23 117.30,520.30 C121.05,520.37 126.22,520.08 130.00,519.60 C133.78,519.12 136.67,518.40 140.00,517.40 C143.33,516.40 146.67,514.93 150.00,513.60 C153.33,512.27 156.67,510.78 160.00,509.40 C163.33,508.02 166.67,506.60 170.00,505.30 C173.33,504.00 176.67,502.60 180.00,501.60 C183.33,500.60 186.33,499.68 190.00,499.30 C193.67,498.92 197.83,498.97 202.00,499.30 C206.17,499.63 210.33,500.62 215.00,501.30 C219.67,501.98 224.17,502.73 230.00,503.40 C235.83,504.07 243.33,504.73 250.00,505.30 C256.67,505.87 265.00,506.30 270.00,506.80 C275.00,507.30 275.83,507.72 280.00,508.30 C284.17,508.88 286.67,509.77 295.00,510.30 C303.33,510.83 317.50,511.28 330.00,511.50 C342.50,511.72 361.67,511.70 370.00,511.60 C378.33,511.50 376.33,511.32 380.00,510.90 C383.67,510.48 388.00,509.80 392.00,509.10 C396.00,508.40 400.00,507.50 404.00,506.70 C408.00,505.90 412.00,505.40 416.00,504.30 C420.00,503.20 424.00,501.67 428.00,500.10 C432.00,498.53 435.50,496.63 440.00,494.90 C444.50,493.17 450.67,491.70 455.00,489.70 C459.33,487.70 463.00,484.67 466.00,482.90 C469.00,481.13 470.75,480.30 473.00,479.10 C475.25,477.90 477.33,476.93 479.50,475.70 C481.67,474.47 483.85,473.05 486.00,471.70 C488.15,470.35 490.23,468.83 492.40,467.60 C494.57,466.37 496.90,465.40 499.00,464.30 C501.10,463.20 502.93,461.95 505.00,461.00 C507.07,460.05 508.90,459.35 511.40,458.60 C513.90,457.85 516.90,457.13 520.00,456.50 C523.10,455.87 526.67,455.12 530.00,454.80 C533.33,454.48 536.67,454.28 540.00,454.60 C543.33,454.92 546.67,455.83 550.00,456.70 C553.33,457.57 556.67,458.75 560.00,459.80 C563.33,460.85 566.67,461.93 570.00,463.00 C573.33,464.07 576.93,465.15 580.00,466.20 C583.07,467.25 587.00,468.78 588.40,469.30" fill="none" stroke="#f42c2c" stroke-width="1.15"/>
<line x1="628.4" y1="1.5" x2="628.4" y2="447" stroke="#1a1a1a" stroke-width="1.1"/>
<line x1="2" y1="446.3" x2="629" y2="446.3" stroke="#7a7a7a" stroke-width="1.05"/>
<line x1="2" y1="448.5" x2="629" y2="448.5" stroke="#111" stroke-width="1.05"/>
<line x1="628.4" y1="448" x2="628.4" y2="526.8" stroke="#1a1a1a" stroke-width="1.1"/>
<line x1="2" y1="526.3" x2="629" y2="526.3" stroke="#1a1a1a" stroke-width="1.3"/>
<polygon points="4.5,7 10.5,7 7.5,10.5" fill="#000"/>
<text xml:space="preserve" x="15.0" y="11.0" font-size="8.6" fill="#111" stroke="#111" stroke-width="0.15" text-anchor="start" letter-spacing="0.60" textLength="43.8" lengthAdjust="spacingAndGlyphs">GBPUSD,H1</text>
<text xml:space="preserve" x="63.6" y="11.0" font-size="8.6" fill="#111" stroke="#111" stroke-width="0.15" text-anchor="start" letter-spacing="0.60" textLength="26.9" lengthAdjust="spacingAndGlyphs">1.32418</text>
<text xml:space="preserve" x="92.4" y="11.0" font-size="8.6" fill="#111" stroke="#111" stroke-width="0.15" text-anchor="start" letter-spacing="0.60" textLength="26.9" lengthAdjust="spacingAndGlyphs">1.32469</text>
<text xml:space="preserve" x="121.2" y="11.0" font-size="8.6" fill="#111" stroke="#111" stroke-width="0.15" text-anchor="start" letter-spacing="0.60" textLength="26.9" lengthAdjust="spacingAndGlyphs">1.32407</text>
<text xml:space="preserve" x="150.0" y="11.0" font-size="8.6" fill="#111" stroke="#111" stroke-width="0.15" text-anchor="start" letter-spacing="0.60" textLength="26.9" lengthAdjust="spacingAndGlyphs">1.32431</text>
<text xml:space="preserve" x="628.8" y="22.7" font-size="8.6" fill="#111" stroke="#111" stroke-width="0.15" text-anchor="end" letter-spacing="0.60" textLength="41.6" lengthAdjust="spacingAndGlyphs">0.0-1.32657</text>
<text xml:space="preserve" x="628.8" y="367.3" font-size="8.6" fill="#111" stroke="#111" stroke-width="0.15" text-anchor="end" letter-spacing="0.60" textLength="45.2" lengthAdjust="spacingAndGlyphs">23.6-1.30800</text>
<text xml:space="preserve" x="6.1" y="458.6" font-size="8.6" fill="#111" stroke="#111" stroke-width="0.15" text-anchor="start" letter-spacing="0.60" textLength="52.2" lengthAdjust="spacingAndGlyphs">MACD(12,26,9)</text>
<text xml:space="preserve" x="61.6" y="458.6" font-size="8.6" fill="#111" stroke="#111" stroke-width="0.15" text-anchor="start" letter-spacing="0.60" textLength="31.4" lengthAdjust="spacingAndGlyphs">0.002004</text>
<text xml:space="preserve" x="94.7" y="458.6" font-size="8.6" fill="#111" stroke="#111" stroke-width="0.15" text-anchor="start" letter-spacing="0.60" textLength="31.2" lengthAdjust="spacingAndGlyphs">0.002509</text>
<line x1="628.5" y1="18.0" x2="630.8" y2="18.0" stroke="#222" stroke-width="1"/>
<text xml:space="preserve" x="633.0" y="21.1" font-size="8.6" fill="#111" stroke="#111" stroke-width="0.15" text-anchor="start" letter-spacing="0.60" textLength="27.6" lengthAdjust="spacingAndGlyphs">1.32690</text>
<line x1="628.5" y1="44.6" x2="630.8" y2="44.6" stroke="#222" stroke-width="1"/>
<text xml:space="preserve" x="633.0" y="47.7" font-size="8.6" fill="#111" stroke="#111" stroke-width="0.15" text-anchor="start" letter-spacing="0.60" textLength="27.6" lengthAdjust="spacingAndGlyphs">1.32545</text>
<line x1="628.5" y1="71.6" x2="630.8" y2="71.6" stroke="#222" stroke-width="1"/>
<text xml:space="preserve" x="633.0" y="74.7" font-size="8.6" fill="#111" stroke="#111" stroke-width="0.15" text-anchor="start" letter-spacing="0.60" textLength="27.6" lengthAdjust="spacingAndGlyphs">1.32400</text>
<line x1="628.5" y1="98.4" x2="630.8" y2="98.4" stroke="#222" stroke-width="1"/>
<text xml:space="preserve" x="633.0" y="101.5" font-size="8.6" fill="#111" stroke="#111" stroke-width="0.15" text-anchor="start" letter-spacing="0.60" textLength="27.6" lengthAdjust="spacingAndGlyphs">1.32255</text>
<line x1="628.5" y1="125.2" x2="630.8" y2="125.2" stroke="#222" stroke-width="1"/>
<text xml:space="preserve" x="633.0" y="128.3" font-size="8.6" fill="#111" stroke="#111" stroke-width="0.15" text-anchor="start" letter-spacing="0.60" textLength="27.6" lengthAdjust="spacingAndGlyphs">1.32115</text>
<line x1="628.5" y1="151.8" x2="630.8" y2="151.8" stroke="#222" stroke-width="1"/>
<text xml:space="preserve" x="633.0" y="154.9" font-size="8.6" fill="#111" stroke="#111" stroke-width="0.15" text-anchor="start" letter-spacing="0.60" textLength="27.6" lengthAdjust="spacingAndGlyphs">1.31970</text>
<line x1="628.5" y1="178.2" x2="630.8" y2="178.2" stroke="#222" stroke-width="1"/>
<text xml:space="preserve" x="633.0" y="181.3" font-size="8.6" fill="#111" stroke="#111" stroke-width="0.15" text-anchor="start" letter-spacing="0.60" textLength="27.6" lengthAdjust="spacingAndGlyphs">1.31825</text>
<line x1="628.5" y1="205.2" x2="630.8" y2="205.2" stroke="#222" stroke-width="1"/>
<text xml:space="preserve" x="633.0" y="208.3" font-size="8.6" fill="#111" stroke="#111" stroke-width="0.15" text-anchor="start" letter-spacing="0.60" textLength="27.6" lengthAdjust="spacingAndGlyphs">1.31685</text>
<line x1="628.5" y1="231.9" x2="630.8" y2="231.9" stroke="#222" stroke-width="1"/>
<text xml:space="preserve" x="633.0" y="235.0" font-size="8.6" fill="#111" stroke="#111" stroke-width="0.15" text-anchor="start" letter-spacing="0.60" textLength="27.6" lengthAdjust="spacingAndGlyphs">1.31540</text>
<line x1="628.5" y1="258.2" x2="630.8" y2="258.2" stroke="#222" stroke-width="1"/>
<text xml:space="preserve" x="633.0" y="261.3" font-size="8.6" fill="#111" stroke="#111" stroke-width="0.15" text-anchor="start" letter-spacing="0.60" textLength="27.6" lengthAdjust="spacingAndGlyphs">1.31395</text>
<line x1="628.5" y1="284.7" x2="630.8" y2="284.7" stroke="#222" stroke-width="1"/>
<text xml:space="preserve" x="633.0" y="287.8" font-size="8.6" fill="#111" stroke="#111" stroke-width="0.15" text-anchor="start" letter-spacing="0.60" textLength="27.6" lengthAdjust="spacingAndGlyphs">1.31250</text>
<line x1="628.5" y1="311.3" x2="630.8" y2="311.3" stroke="#222" stroke-width="1"/>
<text xml:space="preserve" x="633.0" y="314.4" font-size="8.6" fill="#111" stroke="#111" stroke-width="0.15" text-anchor="start" letter-spacing="0.60" textLength="27.6" lengthAdjust="spacingAndGlyphs">1.31105</text>
<line x1="628.5" y1="337.8" x2="630.8" y2="337.8" stroke="#222" stroke-width="1"/>
<text xml:space="preserve" x="633.0" y="340.9" font-size="8.6" fill="#111" stroke="#111" stroke-width="0.15" text-anchor="start" letter-spacing="0.60" textLength="27.6" lengthAdjust="spacingAndGlyphs">1.30965</text>
<line x1="628.5" y1="364.4" x2="630.8" y2="364.4" stroke="#222" stroke-width="1"/>
<text xml:space="preserve" x="633.0" y="367.5" font-size="8.6" fill="#111" stroke="#111" stroke-width="0.15" text-anchor="start" letter-spacing="0.60" textLength="27.6" lengthAdjust="spacingAndGlyphs">1.30820</text>
<line x1="628.5" y1="391.0" x2="630.8" y2="391.0" stroke="#222" stroke-width="1"/>
<text xml:space="preserve" x="633.0" y="394.1" font-size="8.6" fill="#111" stroke="#111" stroke-width="0.15" text-anchor="start" letter-spacing="0.60" textLength="27.6" lengthAdjust="spacingAndGlyphs">1.30675</text>
<line x1="628.5" y1="417.5" x2="630.8" y2="417.5" stroke="#222" stroke-width="1"/>
<text xml:space="preserve" x="633.0" y="420.6" font-size="8.6" fill="#111" stroke="#111" stroke-width="0.15" text-anchor="start" letter-spacing="0.60" textLength="27.6" lengthAdjust="spacingAndGlyphs">1.30535</text>
<line x1="628.5" y1="444.2" x2="630.8" y2="444.2" stroke="#222" stroke-width="1"/>
<text xml:space="preserve" x="633.0" y="447.3" font-size="8.6" fill="#111" stroke="#111" stroke-width="0.15" text-anchor="start" letter-spacing="0.60" textLength="27.6" lengthAdjust="spacingAndGlyphs">1.30390</text>
<rect x="630" y="62.0" width="33" height="8.4" fill="#000"/>
<text xml:space="preserve" x="633.2" y="69.3" font-size="8.6" fill="#fff" stroke="#fff" stroke-width="0.15" text-anchor="start" letter-spacing="0.60" textLength="27.6" lengthAdjust="spacingAndGlyphs">1.32431</text>
<rect x="630" y="141.1" width="33" height="8.4" fill="#8c0a0a"/>
<text xml:space="preserve" x="633.2" y="148.4" font-size="8.6" fill="#fff" stroke="#fff" stroke-width="0.15" text-anchor="start" letter-spacing="0.60" textLength="27.6" lengthAdjust="spacingAndGlyphs">1.32000</text>
<rect x="630" y="170.8" width="33" height="8.4" fill="#8c0a0a"/>
<text xml:space="preserve" x="633.2" y="178.1" font-size="8.6" fill="#fff" stroke="#fff" stroke-width="0.15" text-anchor="start" letter-spacing="0.60" textLength="27.6" lengthAdjust="spacingAndGlyphs">1.31840</text>
<text xml:space="preserve" x="631.0" y="457.0" font-size="8.6" fill="#111" stroke="#111" stroke-width="0.15" text-anchor="start" letter-spacing="0.60" textLength="32.1" lengthAdjust="spacingAndGlyphs">0.003556</text>
<text xml:space="preserve" x="632.0" y="520.5" font-size="8.6" fill="#111" stroke="#111" stroke-width="0.15" text-anchor="start" letter-spacing="0.60" textLength="16.1" lengthAdjust="spacingAndGlyphs">0.00</text>
<text xml:space="preserve" x="632.0" y="524.0" font-size="8.6" fill="#111" stroke="#111" stroke-width="0.15" text-anchor="start" letter-spacing="0.60" textLength="33.6" lengthAdjust="spacingAndGlyphs">-0.000376</text>
<line x1="2.3" y1="526" x2="2.3" y2="529.6" stroke="#222" stroke-width="1"/>
<text xml:space="preserve" x="1.9" y="536.8" font-size="8.6" fill="#111" stroke="#111" stroke-width="0.15" text-anchor="start" letter-spacing="0.60" textLength="43.6" lengthAdjust="spacingAndGlyphs">13 Aug 2020</text>
<line x1="54.2" y1="526" x2="54.2" y2="529.6" stroke="#222" stroke-width="1"/>
<text xml:space="preserve" x="53.8" y="536.8" font-size="8.6" fill="#111" stroke="#111" stroke-width="0.15" text-anchor="start" letter-spacing="0.60" textLength="45.6" lengthAdjust="spacingAndGlyphs">14 Aug 01:00</text>
<line x1="105.6" y1="526" x2="105.6" y2="529.6" stroke="#222" stroke-width="1"/>
<text xml:space="preserve" x="105.2" y="536.8" font-size="8.6" fill="#111" stroke="#111" stroke-width="0.15" text-anchor="start" letter-spacing="0.60" textLength="45.9" lengthAdjust="spacingAndGlyphs">14 Aug 09:00</text>
<line x1="157.4" y1="526" x2="157.4" y2="529.6" stroke="#222" stroke-width="1"/>
<text xml:space="preserve" x="157.0" y="536.8" font-size="8.6" fill="#111" stroke="#111" stroke-width="0.15" text-anchor="start" letter-spacing="0.60" textLength="45.9" lengthAdjust="spacingAndGlyphs">14 Aug 17:00</text>
<line x1="208.6" y1="526" x2="208.6" y2="529.6" stroke="#222" stroke-width="1"/>
<text xml:space="preserve" x="208.2" y="536.8" font-size="8.6" fill="#111" stroke="#111" stroke-width="0.15" text-anchor="start" letter-spacing="0.60" textLength="35.0" lengthAdjust="spacingAndGlyphs">17 Aug 01</text>
<line x1="260.3" y1="526" x2="260.3" y2="529.6" stroke="#222" stroke-width="1"/>
<line x1="311.8" y1="526" x2="311.8" y2="529.6" stroke="#222" stroke-width="1"/>
<line x1="363.3" y1="526" x2="363.3" y2="529.6" stroke="#222" stroke-width="1"/>
<line x1="414.9" y1="526" x2="414.9" y2="529.6" stroke="#222" stroke-width="1"/>
<text xml:space="preserve" x="424.6" y="536.8" font-size="8.6" fill="#111" stroke="#111" stroke-width="0.15" text-anchor="start" letter-spacing="0.60" textLength="36.2" lengthAdjust="spacingAndGlyphs">Aug 09:00</text>
<line x1="466.5" y1="526" x2="466.5" y2="529.6" stroke="#222" stroke-width="1"/>
<text xml:space="preserve" x="466.1" y="536.8" font-size="8.6" fill="#111" stroke="#111" stroke-width="0.15" text-anchor="start" letter-spacing="0.60" textLength="45.9" lengthAdjust="spacingAndGlyphs">18 Aug 17:00</text>
<line x1="518.0" y1="526" x2="518.0" y2="529.6" stroke="#222" stroke-width="1"/>
<text xml:space="preserve" x="517.6" y="536.8" font-size="8.6" fill="#111" stroke="#111" stroke-width="0.15" text-anchor="start" letter-spacing="0.60" textLength="45.9" lengthAdjust="spacingAndGlyphs">19 Aug 01:00</text>
<line x1="569.5" y1="526" x2="569.5" y2="529.6" stroke="#222" stroke-width="1"/>
<text xml:space="preserve" x="569.1" y="536.8" font-size="8.6" fill="#111" stroke="#111" stroke-width="0.15" text-anchor="start" letter-spacing="0.60" textLength="45.9" lengthAdjust="spacingAndGlyphs">19 Aug 09:00</text>
<defs><linearGradient id="wg" x1="0" y1="0" x2="0" y2="1"><stop offset="0" stop-color="#e8797d"/><stop offset="0.12" stop-color="#e36a6e"/><stop offset="0.8" stop-color="#e2686c"/><stop offset="1" stop-color="#d65e62"/></linearGradient></defs>
<rect x="244.4" y="511.9" width="177.6" height="29.8" fill="url(#wg)"/>
<text x="290.6" y="533.6" font-size="21" fill="#ffffff" stroke="#e2686c" stroke-width="0.35" textLength="83.2" lengthAdjust="spacingAndGlyphs" style="font-family:'Liberation Sans',sans-serif">instaforex</text>
</svg></body></html>
